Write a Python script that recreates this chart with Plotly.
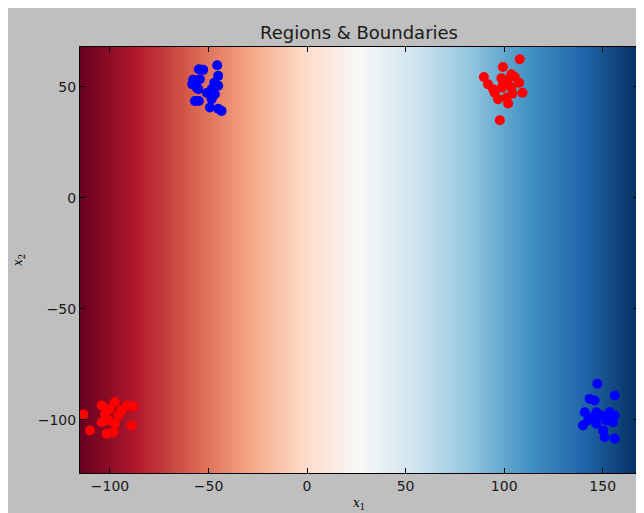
import numpy as np
import plotly.graph_objects as go

# ---- data ----
x_range = [-115.2, 167.9]
y_range = [-124.0, 68.0]

# background score along x1 (decision value used for the colour map)
region_x = np.linspace(-115.2, 167.9, 284)
region_y = [-124.0, 68.0]
region_score = [list(region_x), list(region_x)]

red_x = [107.9, 99.4, 89.7, 103.7, 105.4, 98.6, 91.8, 107.6, 99.4, 94.4,
         103.7, 98.9, 109.3, 104.2, 95.2, 96.9, 101.2, 102.0, 97.8, 101.5,
         -113.5, -104.2, -97.5, -100.0, -91.5, -88.2, -102.5, -100.9, -95.8, -97.5,
         -89.0, -110.1, -101.7, -98.3, -104.2, -94.1]
red_y = [62.5, 59.0, 54.5, 55.7, 54.5, 53.9, 51.2, 51.9, 51.2, 49.0,
         49.7, 49.7, 47.4, 47.0, 47.4, 44.5, 45.2, 42.5, 35.0, 53.0,
         -97.6, -93.6, -92.1, -95.0, -93.6, -94.0, -97.3, -100.3, -98.1, -101.8,
         -102.6, -104.8, -106.3, -105.6, -101.1, -95.8]

blue_x = [-54.9, -52.7, -45.6, -57.8, -54.4, -45.1, -58.3, -56.0, -47.1, -45.1,
          -48.4, -46.8, -48.4, -56.9, -54.9, -49.3, -45.1, -43.4, -55.2, -50.8,
          147.3, 156.1, 143.4, 145.9, 140.9, 146.8, 149.3, 153.5, 156.1, 145.1,
          151.9, 155.2, 140.0, 146.8, 150.2, 151.0, 156.1, 142.5]
blue_y = [58.0, 57.7, 59.8, 53.2, 53.5, 55.0, 51.2, 49.7, 51.9, 50.5,
          49.0, 46.7, 44.5, 43.7, 43.7, 40.7, 40.2, 39.2, 49.0, 47.3,
          -83.8, -89.1, -90.6, -91.3, -96.6, -96.6, -98.1, -96.6, -98.1, -98.8,
          -100.3, -101.1, -102.6, -101.8, -104.8, -107.8, -108.5, -100.3]

x_ticks = [-100, -50, 0, 50, 100, 150]
x_tick_labels = ["\u2212100", "\u221250", "0", "50", "100", "150"]
y_ticks = [-100, -50, 0, 50]
y_tick_labels = ["\u2212100", "\u221250", "0", "50"]

rdbu = ["#67001f", "#b2182b", "#d6604d", "#f4a582", "#fddbc7", "#f7f7f7",
        "#d1e5f0", "#92c5de", "#4393c3", "#2166ac", "#053061"]
colorscale = [[i / (len(rdbu) - 1), c] for i, c in enumerate(rdbu)]

fig = go.Figure()
fig.add_trace(go.Heatmap(x=region_x, y=region_y, z=region_score,
                         colorscale=colorscale, zmin=x_range[0], zmax=x_range[1],
                         showscale=False, hoverinfo="skip", zsmooth="best"))
fig.add_trace(go.Scatter(x=red_x, y=red_y, mode="markers",
                         marker=dict(color="#ff0000", size=10, line=dict(width=0)),
                         showlegend=False))
fig.add_trace(go.Scatter(x=blue_x, y=blue_y, mode="markers",
                         marker=dict(color="#0000ff", size=10, line=dict(width=0)),
                         showlegend=False))

# page has an 8px body margin; figure fills the rest of the 644x513 window
W, H = 636, 505
L, R, T, B = 72, 6, 39, 40
pw, ph = W - L - R, H - T - B

axis_common = dict(showgrid=False, zeroline=False, showline=True, linecolor="black",
                   linewidth=1, mirror="allticks", ticks="inside", ticklen=5,
                   tickwidth=1, tickcolor="black",
                   tickfont=dict(family="DejaVu Sans", size=14, color="#1a1a1a"))

fig.update_layout(
    width=W, height=H,
    margin=dict(l=L, r=R, t=T, b=B, pad=0),
    paper_bgcolor="#bfbfbf", plot_bgcolor="white",
    title=dict(text="Regions & Boundaries", x=0.5, xref="paper", xanchor="center",
               y=1 - 25 / H, yref="container", yanchor="middle",
               font=dict(family="DejaVu Sans", size=18, color="#1a1a1a")),
    xaxis=dict(range=x_range, tickvals=x_ticks, ticktext=x_tick_labels, **axis_common),
    yaxis=dict(range=y_range, tickvals=y_ticks, ticktext=y_tick_labels, **axis_common),
    annotations=[
        dict(text="<i>x</i><sub>1</sub>", xref="paper", yref="paper",
             x=0.5, y=0, yshift=-31, showarrow=False,
             xanchor="center", yanchor="middle",
             font=dict(family="DejaVu Serif", size=12, color="black")),
        dict(text="<i>x</i><sub>2</sub>", xref="paper", yref="paper",
             x=0, xshift=-61, y=0.5, showarrow=False,
             xanchor="center", yanchor="middle", textangle=-90,
             font=dict(family="DejaVu Serif", size=12, color="black")),
    ],
)

fig.write_html("out.html")
